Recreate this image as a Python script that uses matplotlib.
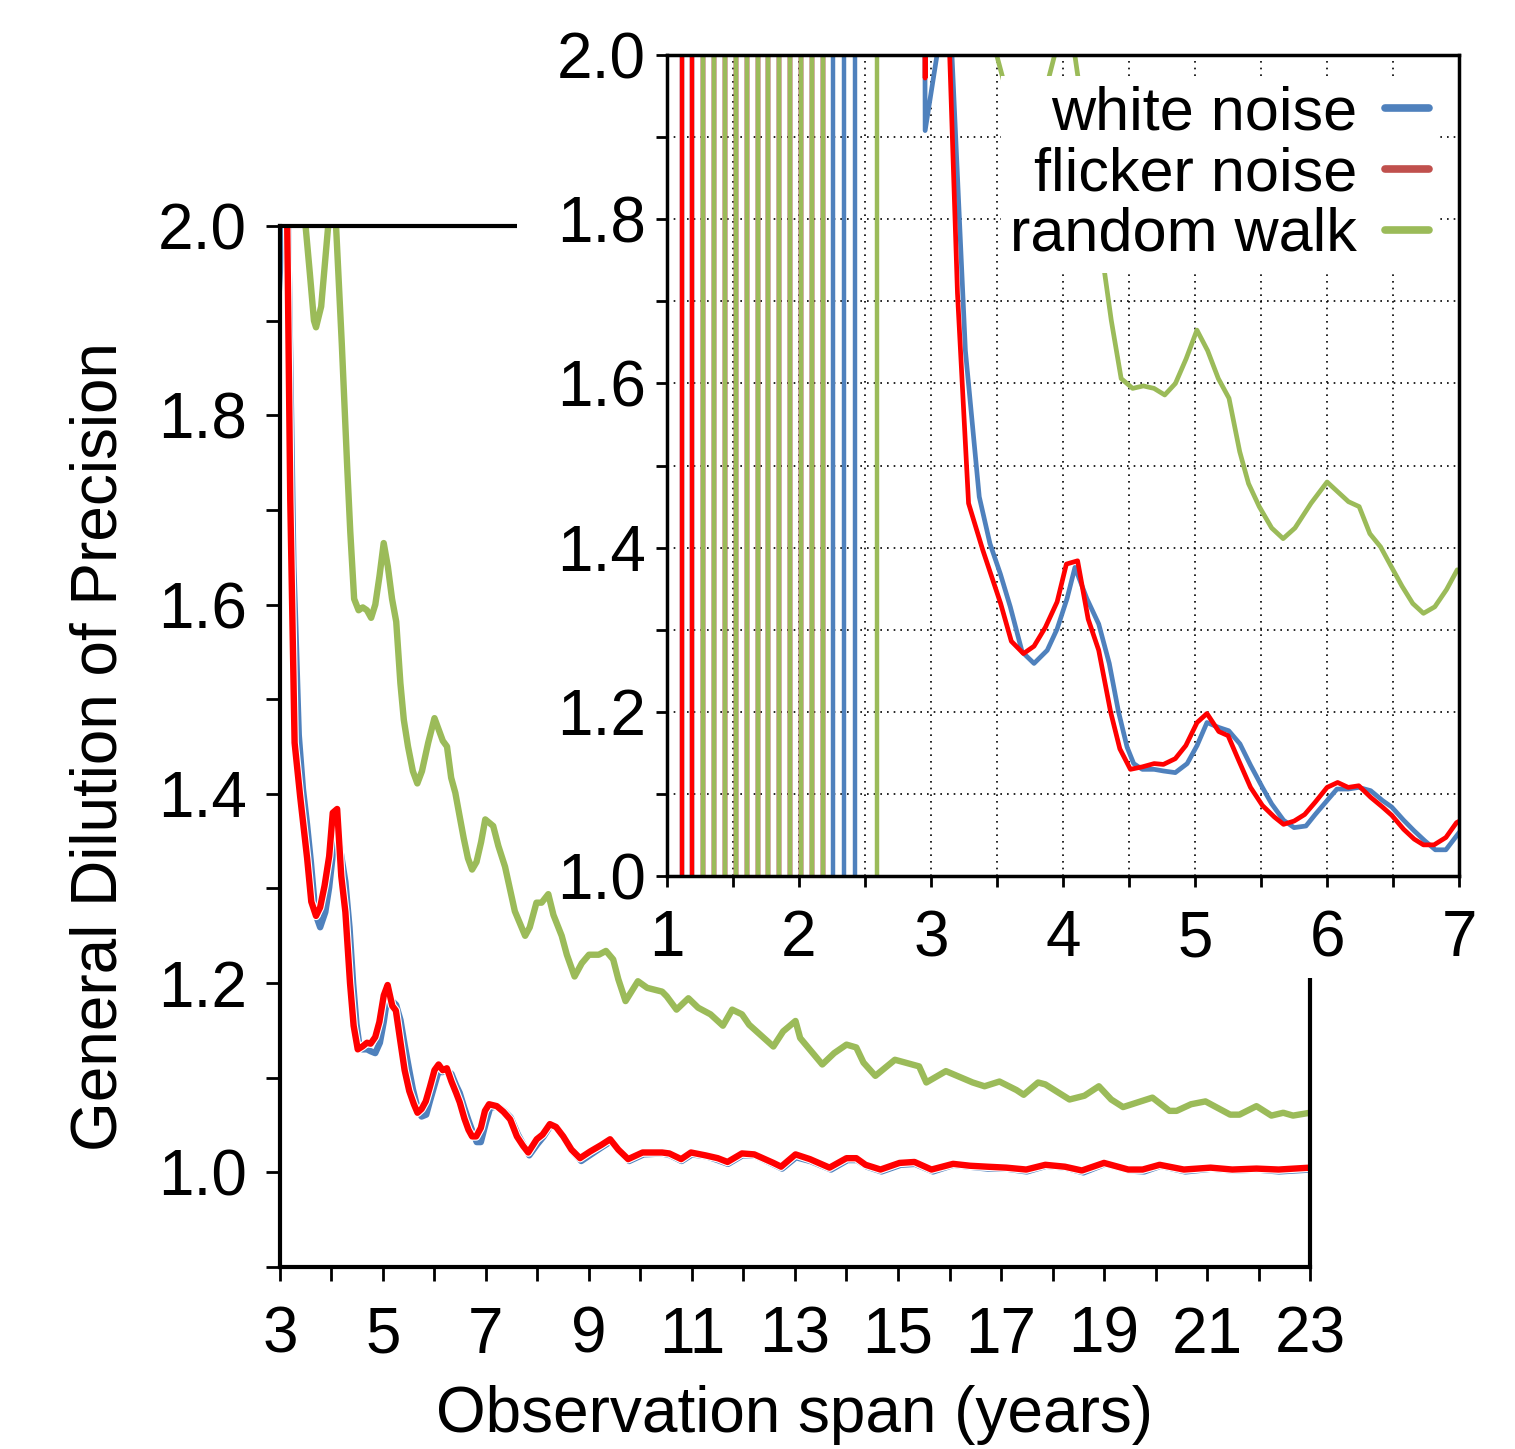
import matplotlib
matplotlib.use("Agg")
import matplotlib.pyplot as plt
import matplotlib.patheffects as pe
from matplotlib.lines import Line2D
from matplotlib.patches import Rectangle
from matplotlib.ticker import MultipleLocator

plt.rcParams['font.family'] = ['Liberation Sans', 'DejaVu Sans']

# --- data (span in years, GDOP) ---
white_x = [2.94, 2.955, 3.045, 3.08, 3.13, 3.26, 3.365, 3.446, 3.525, 3.60, 3.69, 3.78, 3.88,
           3.955, 4.03, 4.09, 4.18, 4.27, 4.35, 4.42, 4.485, 4.535, 4.60, 4.69, 4.76, 4.85,
           4.94, 5.015, 5.09, 5.18, 5.255, 5.34, 5.42, 5.51, 5.58, 5.67, 5.75, 5.84, 5.91,
           6.0, 6.075, 6.16, 6.24, 6.33, 6.42, 6.49, 6.58, 6.66, 6.74, 6.82, 6.90,
           7.0, 7.08, 7.22, 7.35, 7.48, 7.62, 7.74, 7.84, 8.0, 8.12, 8.26, 8.38, 8.52, 8.68,
           8.85, 9.04, 9.26, 9.43, 9.6, 9.78, 10.06, 10.42, 10.58, 10.8, 11.0, 11.28, 11.5,
           11.7, 11.98, 12.22, 12.6, 12.75, 13.02, 13.3, 13.7, 14.02, 14.2, 14.4, 14.68,
           15.05, 15.33, 15.68, 16.08, 16.4, 16.75, 17.1, 17.5, 17.88, 18.26, 18.6, 19.02,
           19.5, 19.78, 20.1, 20.58, 21.1, 21.5, 21.98, 22.4, 23.0]
white_y = [3.0, 1.908, 2.0, 2.4, 2.1, 1.64, 1.462, 1.405, 1.368, 1.328, 1.273, 1.259, 1.275,
           1.301, 1.338, 1.376, 1.338, 1.307, 1.259, 1.20, 1.157, 1.137, 1.13, 1.13, 1.128, 1.126,
           1.137, 1.159, 1.187, 1.181, 1.177, 1.161, 1.135, 1.108, 1.088, 1.068, 1.059, 1.061, 1.075,
           1.092, 1.106, 1.106, 1.108, 1.104, 1.092, 1.084, 1.068, 1.055, 1.043, 1.032, 1.032,
           1.053, 1.068, 1.070, 1.065, 1.058, 1.040, 1.028, 1.018, 1.030, 1.038, 1.050, 1.047, 1.036, 1.022,
           1.012, 1.019, 1.027, 1.033, 1.023, 1.012, 1.019, 1.020, 1.018, 1.012, 1.019, 1.017, 1.013,
           1.009, 1.018, 1.018, 1.008, 1.004, 1.016, 1.012, 1.003, 1.013, 1.013, 1.006, 1.001,
           1.008, 1.009, 1.001, 1.008, 1.006, 1.004, 1.004, 1.001, 1.007, 1.005, 1.000, 1.009,
           1.002, 1.001, 1.007, 1.001, 1.004, 1.002, 1.003, 1.001, 1.003]

flicker_x = [2.94, 2.955, 2.97, 3.08, 3.2, 3.284, 3.392, 3.527, 3.608, 3.70, 3.78, 3.866, 3.955,
             4.025, 4.11, 4.19, 4.27, 4.36, 4.43, 4.51, 4.60, 4.69, 4.76, 4.85, 4.93, 5.015,
             5.09, 5.18, 5.25, 5.33, 5.42, 5.51, 5.60, 5.67, 5.75, 5.83, 5.91, 6.0, 6.08,
             6.16, 6.24, 6.33, 6.42, 6.49, 6.58, 6.66, 6.73, 6.81, 6.90, 6.98, 7.06, 7.21,
             7.34, 7.47, 7.60, 7.72, 7.82, 7.985, 8.1, 8.24, 8.36, 8.50, 8.66, 8.825, 9.02,
             9.24, 9.41, 9.57, 9.76, 10.04, 10.42, 10.56, 10.79, 10.98, 11.26, 11.5, 11.69,
             11.97, 12.21, 12.58, 12.73, 13.01, 13.29, 13.67, 14.0, 14.19, 14.37, 14.66, 15.03,
             15.32, 15.65, 16.07, 16.4, 16.73, 17.1, 17.49, 17.86, 18.24, 18.57, 19.0, 19.47,
             19.75, 20.08, 20.55, 21.07, 21.49, 21.96, 22.39, 23.0]
flicker_y = [2.6, 1.972, 2.6, 2.3, 1.71, 1.454, 1.397, 1.332, 1.286, 1.271, 1.28, 1.303, 1.334,
             1.38, 1.384, 1.313, 1.275, 1.20, 1.155, 1.13, 1.133, 1.137, 1.136, 1.143, 1.159, 1.187,
             1.198, 1.176, 1.171, 1.141, 1.108, 1.086, 1.072, 1.063, 1.067, 1.075, 1.09, 1.108, 1.114,
             1.108, 1.11, 1.096, 1.084, 1.074, 1.057, 1.045, 1.038, 1.038, 1.047, 1.065, 1.072, 1.070,
             1.064, 1.056, 1.038, 1.028, 1.021, 1.035, 1.04, 1.051, 1.048, 1.038, 1.024, 1.015, 1.022,
             1.029, 1.035, 1.024, 1.014, 1.021, 1.021, 1.020, 1.014, 1.021, 1.018, 1.015, 1.011,
             1.020, 1.019, 1.010, 1.006, 1.019, 1.014, 1.005, 1.015, 1.015, 1.008, 1.003, 1.010,
             1.011, 1.003, 1.009, 1.007, 1.006, 1.005, 1.003, 1.008, 1.006, 1.002, 1.010, 1.003,
             1.003, 1.008, 1.003, 1.005, 1.003, 1.004, 1.003, 1.005]

rw_x = [3.45, 3.497, 3.58, 3.66, 3.70, 3.80, 4.0, 4.08, 4.2, 4.305, 4.365, 4.44, 4.527, 4.608,
        4.689, 4.77, 4.851, 4.932, 5.014, 5.095, 5.176, 5.257, 5.338, 5.405, 5.486, 5.58,
        5.667, 5.757, 5.878, 6.0, 6.081, 6.162, 6.243, 6.324, 6.405, 6.486, 6.568, 6.649,
        6.73, 6.816, 6.905, 6.986, 7.14, 7.24, 7.37, 7.56, 7.76, 7.85, 7.98, 8.08, 8.21,
        8.31, 8.47, 8.57, 8.72, 8.86, 9.0, 9.19, 9.33, 9.47, 9.57, 9.71, 9.95, 10.13, 10.42,
        10.51, 10.7, 10.93, 11.12, 11.36, 11.6, 11.78, 11.97, 12.11, 12.58, 12.77, 13.01,
        13.1, 13.53, 13.76, 14.0, 14.19, 14.33, 14.56, 14.94, 15.41, 15.55, 15.93, 16.45,
        16.68, 16.97, 17.3, 17.44, 17.72, 17.86, 18.33, 18.62, 18.9, 19.14, 19.37, 19.94,
        20.27, 20.41, 20.69, 20.97, 21.45, 21.63, 21.96, 22.25, 22.48, 22.67, 23.0]
rw_y = [2.4, 2.0, 1.95, 1.90, 1.893, 1.915, 2.04, 2.01, 1.876, 1.746, 1.677, 1.606, 1.594, 1.597,
        1.594, 1.586, 1.60, 1.63, 1.665, 1.64, 1.606, 1.582, 1.517, 1.478, 1.45, 1.424,
        1.411, 1.424, 1.454, 1.48, 1.468, 1.456, 1.45, 1.417, 1.401, 1.377, 1.353, 1.332,
        1.32, 1.328, 1.349, 1.373, 1.366, 1.345, 1.323, 1.276, 1.25, 1.259, 1.285, 1.285, 1.294,
        1.272, 1.25, 1.23, 1.207, 1.221, 1.230, 1.230, 1.234, 1.225, 1.204, 1.181, 1.202, 1.195, 1.191,
        1.186, 1.172, 1.184, 1.174, 1.167, 1.155, 1.172, 1.167, 1.156, 1.133, 1.149, 1.160,
        1.142, 1.114, 1.126, 1.135, 1.132, 1.116, 1.102, 1.119, 1.112, 1.095, 1.107, 1.095,
        1.091, 1.096, 1.087, 1.082, 1.095, 1.093, 1.077, 1.081, 1.091, 1.077, 1.069, 1.079,
        1.065, 1.065, 1.072, 1.075, 1.061, 1.061, 1.070, 1.060, 1.063, 1.060, 1.063]

# spans where the solution blows up (curve runs off the scale in the inset)
white_spikes = [1.111, 1.192, 1.275, 1.356, 1.439, 1.523, 1.604, 1.687, 1.768, 1.851,
                1.932, 2.015, 2.096, 2.18, 2.26, 2.343, 2.424]
flicker_spikes = [1.111, 1.192, 1.275, 1.356, 1.439, 1.523, 1.604, 1.687, 1.768, 1.851,
                  1.932, 2.015, 2.096, 2.18]
rw_spikes = [1.275, 1.356, 1.439, 1.523, 1.604, 1.687, 1.768, 1.851, 1.932, 2.015,
             2.096, 2.18, 2.589]

labels = ['white noise', 'flicker noise', 'random walk']
main_xticks = [3, 5, 7, 9, 11, 13, 15, 17, 19, 21, 23]
gdop_ticks = [1.0, 1.2, 1.4, 1.6, 1.8, 2.0]
c_blue = '#4F81BD'
c_red = '#FF0000'
c_green = '#9BBB59'
legend_colors = ['#4F81BD', '#C0504D', '#9BBB59']

fs = 46

fig = plt.figure(figsize=(15.15, 14.49), dpi=100)

# main plot
ax = fig.add_axes([0.1848, 0.1256, 0.6799, 0.7184])
ax.set_zorder(1)
halo = [pe.withStroke(linewidth=6.2, foreground='white')]
ax.plot(white_x, white_y, color=c_blue, lw=4.6, path_effects=halo)
ax.plot(flicker_x, flicker_y, color=c_red, lw=4.6, path_effects=halo)
ax.plot(rw_x, rw_y, color=c_green, lw=4.6, path_effects=halo)
ax.set_xlim(3, 23)
ax.set_ylim(0.9, 2.0)
ax.set_xticks(main_xticks)
ax.set_xticklabels([str(t) for t in main_xticks])
ax.xaxis.set_minor_locator(MultipleLocator(1))
ax.set_yticks(gdop_ticks)
ax.set_yticklabels(['%.1f' % t for t in gdop_ticks])
ax.yaxis.set_minor_locator(MultipleLocator(0.1))
ax.tick_params(which='both', direction='out', length=10, width=2, labelsize=fs)
ax.tick_params(axis='y', pad=14)
ax.tick_params(axis='x', pad=18)
for s in ax.spines.values():
    s.set_linewidth(3)
ax.set_xlabel('Observation span (years)', fontsize=fs, labelpad=14)
ax.set_ylabel('General Dilution of Precision', fontsize=fs, labelpad=20)

# white area of the inset chart (plot area + its tick labels)
fig.patches.append(Rectangle((0.341, 0.3927), 0.659, 0.6073, transform=fig.transFigure,
                             facecolor='white', edgecolor='none', zorder=2))
fig.patches.append(Rectangle((0.4257, 0.325), 0.5743, 0.0677, transform=fig.transFigure,
                             facecolor='white', edgecolor='none', zorder=2))

# inset
ins = fig.add_axes([0.4403, 0.3954, 0.5228, 0.5666])
ins.set_zorder(3)
ins.patch.set_alpha(0.0)
ins.vlines(white_spikes, 1.0, 2.0, color=c_blue, lw=3.2)
ins.vlines(flicker_spikes, 1.0, 2.0, color=c_red, lw=3.2)
ins.vlines(rw_spikes, 1.0, 2.0, color=c_green, lw=3.2)
ins.plot(white_x, white_y, color=c_blue, lw=3.4)
ins.plot(flicker_x, flicker_y, color=c_red, lw=3.4)
ins.plot(rw_x, rw_y, color=c_green, lw=3.4)
ins.set_xlim(1, 7)
ins.set_ylim(1.0, 2.0)
ins.xaxis.set_major_locator(MultipleLocator(1))
ins.xaxis.set_minor_locator(MultipleLocator(0.5))
ins.set_yticks(gdop_ticks)
ins.set_yticklabels(['%.1f' % t for t in gdop_ticks])
ins.yaxis.set_minor_locator(MultipleLocator(0.1))
ins.grid(which='both', color='black', lw=1.2, ls=(0, (1, 3)))
ins.set_axisbelow(True)
ins.tick_params(which='both', direction='out', length=8, width=2, labelsize=fs)
ins.tick_params(axis='y', pad=7)
ins.tick_params(axis='x', pad=16)
for s in ins.spines.values():
    s.set_linewidth(2.5)

handles = [Line2D([], [], color=c, lw=5.5, solid_capstyle='round') for c in legend_colors]
leg = ins.legend(handles, labels, loc='upper right', markerfirst=False, fontsize=44,
                 frameon=True, facecolor='white', edgecolor='none', framealpha=1,
                 handlelength=0.72, handletextpad=0.45, labelspacing=0.06,
                 borderpad=0.15, borderaxespad=0.35)
leg.get_frame().set_boxstyle('square', pad=0)

fig.savefig('out.png', dpi=100)
